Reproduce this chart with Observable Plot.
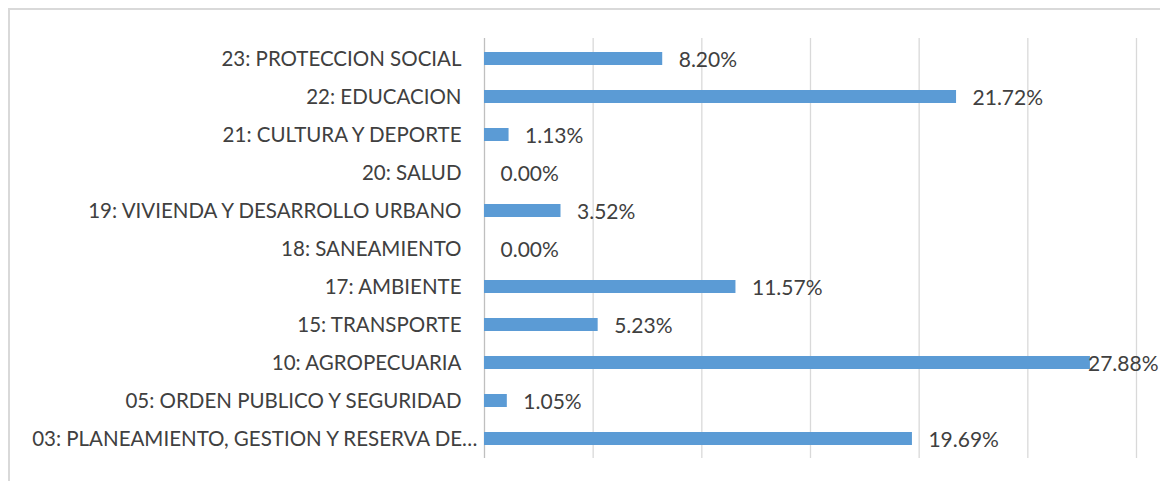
<!DOCTYPE html>
<html><head><meta charset="utf-8">
<script src="https://cdn.jsdelivr.net/npm/d3@7"></script>
<script src="https://cdn.jsdelivr.net/npm/@observablehq/plot@0.6"></script>
<style>
html,body{margin:0;padding:0;background:#fff;}
#wrap{position:relative;width:1160px;height:481px;overflow:hidden;}
#box{position:absolute;left:8px;top:8px;width:1160px;height:480px;border-left:2px solid #d9d9d9;border-top:2px solid #d9d9d9;box-sizing:border-box;pointer-events:none;}
</style></head>
<body><div id="wrap"><div id="box"></div></div>
<script>
const categories = [
  "23: PROTECCION SOCIAL",
  "22: EDUCACION",
  "21: CULTURA Y DEPORTE",
  "20: SALUD",
  "19: VIVIENDA Y DESARROLLO URBANO",
  "18: SANEAMIENTO",
  "17: AMBIENTE",
  "15: TRANSPORTE",
  "10: AGROPECUARIA",
  "05: ORDEN PUBLICO Y SEGURIDAD",
  "03: PLANEAMIENTO, GESTION Y RESERVA DE…"
];
const values = [8.20, 21.72, 1.13, 0.00, 3.52, 0.00, 11.57, 5.23, 27.88, 1.05, 19.69];
const gridTicks = [0, 5, 10, 15, 20, 25, 30];

const data = categories.map((c, i) => ({category: c, value: values[i], label: values[i].toFixed(2) + "%"}));
const font = "Lato, 'Open Sans', sans-serif";
const lastCat = categories[categories.length - 1];

const chart = Plot.plot({
  width: 1160,
  height: 481,
  marginLeft: 484,
  marginRight: 24,
  marginTop: 38,
  marginBottom: 23,
  style: {fontFamily: font, fontSize: "20.5px", color: "#404040", background: "transparent"},
  x: {domain: [0, 30], axis: null},
  y: {domain: categories, paddingInner: 0.66, paddingOuter: 0.33, label: null, axis: null},
  marks: [
    Plot.ruleX(gridTicks.slice(1), {stroke: "#d9d9d9", strokeWidth: 1.3}),
    Plot.ruleX([0], {stroke: "#bfbfbf", strokeWidth: 1.3}),
    Plot.barX(data, {x: "value", y: "category", fill: "#5B9BD5"}),
    Plot.text(data.filter(d => d.value < 26), {x: "value", y: "category", text: "label", textAnchor: "start", dx: 16, dy: 1, fill: "#404040", fontSize: 21}),
    Plot.text(data.filter(d => d.value >= 26), {x: () => 30, y: "category", text: "label", textAnchor: "end", dx: 22, dy: 1, fill: "#404040", fontSize: 21}),
    Plot.axisY(categories.slice(0, -1), {tickSize: 0, tickPadding: 23, fontSize: 20.5, fill: "#404040", label: null}),
    Plot.axisY([lastCat], {tickSize: 0, tickPadding: 7, fontSize: 20.5, fill: "#404040", label: null})
  ]
});
document.getElementById("wrap").appendChild(chart);
chart.style.position = "absolute";
chart.style.left = "0";
chart.style.top = "0";
</script>
</body></html>
